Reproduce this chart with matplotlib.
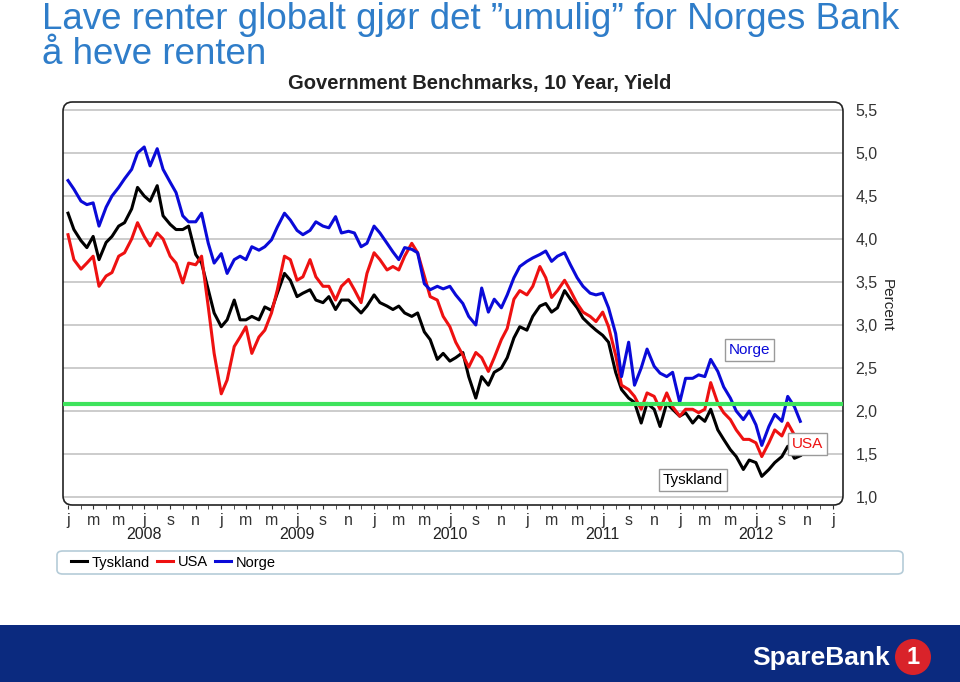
import matplotlib
matplotlib.use("Agg")
import matplotlib.pyplot as plt
import matplotlib.dates as mdates
from matplotlib.patches import FancyBboxPatch, Rectangle, Ellipse
from matplotlib.ticker import FuncFormatter
import pandas as pd

plt.rcParams['font.family'] = ['Liberation Sans', 'DejaVu Sans']

# tiårs statsrenter, lest av fra grafen (ca. to obs. per måned, jan 2008 - okt 2012)
datoer = pd.date_range("2008-01-01", periods=116, freq="SMS")

norge = [4.68, 4.58, 4.44, 4.40, 4.42, 4.15, 4.37, 4.50, 4.60, 4.70,
         4.81, 5.00, 5.07, 4.85, 5.05, 4.81, 4.66, 4.54, 4.27, 4.20,
         4.20, 4.30, 3.95, 3.72, 3.83, 3.60, 3.76, 3.80, 3.76, 3.91,
         3.87, 3.91, 3.99, 4.14, 4.30, 4.22, 4.10, 4.05, 4.10, 4.20,
         4.15, 4.13, 4.26, 4.07, 4.09, 4.07, 3.91, 3.95, 4.15, 4.07,
         3.95, 3.85, 3.76, 3.90, 3.88, 3.84, 3.48, 3.41, 3.45, 3.42,
         3.45, 3.35, 3.25, 3.10, 3.00, 3.43, 3.15, 3.30, 3.20, 3.35,
         3.55, 3.68, 3.74, 3.78, 3.82, 3.86, 3.74, 3.80, 3.84, 3.70,
         3.55, 3.45, 3.37, 3.35, 3.37, 3.20, 2.90, 2.40, 2.80, 2.30,
         2.50, 2.72, 2.52, 2.44, 2.40, 2.45, 2.10, 2.38, 2.38, 2.42,
         2.40, 2.60, 2.46, 2.28, 2.15, 2.00, 1.90, 2.00, 1.84, 1.60,
         1.82, 1.96, 1.88, 2.17, 2.05, 1.88]

usa = [4.05, 3.76, 3.65, 3.72, 3.80, 3.45, 3.57, 3.61, 3.80, 3.84,
       4.00, 4.19, 4.03, 3.92, 4.07, 4.00, 3.80, 3.72, 3.49, 3.72,
       3.70, 3.80, 3.21, 2.67, 2.20, 2.36, 2.75, 2.86, 2.98, 2.67,
       2.86, 2.94, 3.14, 3.41, 3.80, 3.76, 3.52, 3.56, 3.76, 3.56,
       3.45, 3.45, 3.29, 3.45, 3.53, 3.41, 3.26, 3.60, 3.84, 3.76,
       3.64, 3.68, 3.64, 3.80, 3.95, 3.84, 3.57, 3.33, 3.29, 3.10,
       2.98, 2.80, 2.65, 2.51, 2.68, 2.62, 2.46, 2.62, 2.83, 2.96,
       3.30, 3.40, 3.35, 3.45, 3.68, 3.55, 3.32, 3.40, 3.52, 3.40,
       3.25, 3.15, 3.10, 3.04, 3.15, 2.98, 2.65, 2.30, 2.25, 2.17,
       2.02, 2.21, 2.17, 2.02, 2.21, 2.05, 1.94, 2.02, 2.02, 1.98,
       2.02, 2.33, 2.09, 1.98, 1.90, 1.78, 1.67, 1.67, 1.63, 1.47,
       1.63, 1.78, 1.71, 1.86, 1.72, 1.72]

tyskland = [4.30, 4.11, 3.98, 3.90, 4.03, 3.76, 3.96, 4.03, 4.15, 4.19,
            4.35, 4.60, 4.50, 4.44, 4.62, 4.27, 4.17, 4.11, 4.11, 4.15,
            3.82, 3.72, 3.41, 3.14, 2.98, 3.06, 3.29, 3.06, 3.06, 3.10,
            3.06, 3.21, 3.17, 3.37, 3.60, 3.52, 3.33, 3.37, 3.41, 3.29,
            3.26, 3.33, 3.18, 3.29, 3.29, 3.22, 3.14, 3.22, 3.35, 3.26,
            3.22, 3.18, 3.22, 3.14, 3.10, 3.14, 2.92, 2.83, 2.60, 2.67,
            2.58, 2.62, 2.68, 2.40, 2.15, 2.40, 2.30, 2.45, 2.50, 2.62,
            2.85, 2.98, 2.94, 3.10, 3.22, 3.25, 3.15, 3.20, 3.40, 3.30,
            3.20, 3.08, 3.00, 2.94, 2.88, 2.80, 2.45, 2.25, 2.15, 2.10,
            1.86, 2.09, 2.02, 1.82, 2.09, 2.02, 1.94, 1.98, 1.86, 1.94,
            1.88, 2.02, 1.78, 1.67, 1.55, 1.47, 1.32, 1.43, 1.40, 1.24,
            1.32, 1.40, 1.47, 1.59, 1.45, 1.48]

gronn_linje = 2.085
aar = [2008, 2009, 2010, 2011, 2012]
mnd_bokstav = {1: "j", 3: "m", 5: "m", 7: "j", 9: "s", 11: "n"}

tittel_farge = "#2f7dc9"

fig = plt.figure(figsize=(9.6, 6.82), dpi=100)
W, H = 960, 682

# tittel
fig.text(42 / W, 1 - 29 / H, "Lave renter globalt gjør det \u201dumulig\u201d for Norges Bank",
         color=tittel_farge, fontsize=26.5, va="baseline", ha="left")
fig.text(42 / W, 1 - 64 / H, "å heve renten",
         color=tittel_farge, fontsize=26.5, va="baseline", ha="left")
fig.text(480 / W, 1 - 83 / H, "Government Benchmarks, 10 Year, Yield",
         fontsize=14.5, fontweight="bold", ha="center", va="center", color="#222222")

# plott
ax = fig.add_axes([63 / W, 1 - 505 / H, (843 - 63) / W, (505 - 102) / H])
ax.plot(datoer, tyskland, color="black", lw=2.2, label="Tyskland")
ax.plot(datoer, usa, color="#ee1111", lw=2.2, label="USA")
ax.plot(datoer, norge, color="#0a0ad8", lw=2.2, label="Norge")
ax.axhline(gronn_linje, color="#3ee35c", lw=3)

ax.set_ylim(0.907, 5.593)
ax.set_xlim(pd.Timestamp("2007-12-20"), pd.Timestamp("2013-01-25"))
ax.set_yticks([1.0, 1.5, 2.0, 2.5, 3.0, 3.5, 4.0, 4.5, 5.0, 5.5])
ax.yaxis.set_major_formatter(FuncFormatter(lambda v, p: f"{v:.1f}".replace(".", ",")))
ax.yaxis.tick_right()
ax.grid(axis="y", color="#c8c8c8", lw=1.3)
ax.set_axisbelow(True)
ax.tick_params(axis="y", length=0, pad=9, labelsize=11.5, colors="#333333")
ax.text(1.056, 0.496, "Percent", rotation=270, fontsize=11, ha="center", va="center",
        color="#222222", transform=ax.transAxes)

ax.xaxis.set_major_locator(mdates.MonthLocator(bymonth=[1, 3, 5, 7, 9, 11]))
ax.xaxis.set_minor_locator(mdates.MonthLocator())
ax.xaxis.set_major_formatter(FuncFormatter(lambda v, p: mnd_bokstav.get(mdates.num2date(v).month, "")))
ax.tick_params(axis="x", which="both", direction="out", length=3, labelsize=11.5, pad=3, colors="#333333")
for a in aar:
    ax.text(pd.Timestamp(f"{a}-07-01"), -0.072, str(a), transform=ax.get_xaxis_transform(),
            ha="center", va="center", fontsize=11.5, color="#222222")

for s in ax.spines.values():
    s.set_visible(False)
ramme = FancyBboxPatch((0, 0), 1, 1, boxstyle="round,pad=0,rounding_size=0.012",
                       transform=ax.transAxes, fill=False, ec="#222222", lw=1.2, clip_on=False,
                       mutation_aspect=780 / 403)
ax.add_patch(ramme)

boks = dict(boxstyle="square,pad=0.25", fc="white", ec="#9a9a9a", lw=1)
ax.text(pd.Timestamp("2012-06-16"), 2.71, "Norge", color="#0a0ad8", fontsize=11, ha="center", va="center", bbox=boks)
ax.text(pd.Timestamp("2012-11-01"), 1.62, "USA", color="#ee1111", fontsize=11, ha="center", va="center", bbox=boks)
ax.text(pd.Timestamp("2012-02-01"), 1.20, "Tyskland", color="black", fontsize=11, ha="center", va="center", bbox=boks)

# legende
fig.patches.append(FancyBboxPatch((57 / W, 1 - 574 / H), (903 - 57) / W, 23 / H,
                                  boxstyle="round,pad=0,rounding_size=0.006",
                                  transform=fig.transFigure, fc="white", ec="#b5ccd8", lw=1.2))
fig.legend(loc="center left", bbox_to_anchor=(58 / W, 1 - 562.5 / H), frameon=False, ncol=3,
           handlelength=1.1, columnspacing=0.5, handletextpad=0.3, fontsize=10.5)

# bunnfelt med logo
fig.patches.append(Rectangle((0, 0), 1, 57 / H, transform=fig.transFigure, fc="#0b2a7f", ec="none"))
fig.text(821 / W, 1 - 658 / H, "SpareBank", color="white", fontsize=19, fontweight="bold",
         ha="center", va="center")
fig.patches.append(Ellipse((913 / W, 1 - 657 / H), 36 / W, 36 / H, transform=fig.transFigure,
                           fc="#d9232a", ec="none"))
fig.text(913 / W, 1 - 657 / H, "1", color="white", fontsize=17, fontweight="bold", ha="center", va="center")

fig.savefig("out.png", dpi=100)
